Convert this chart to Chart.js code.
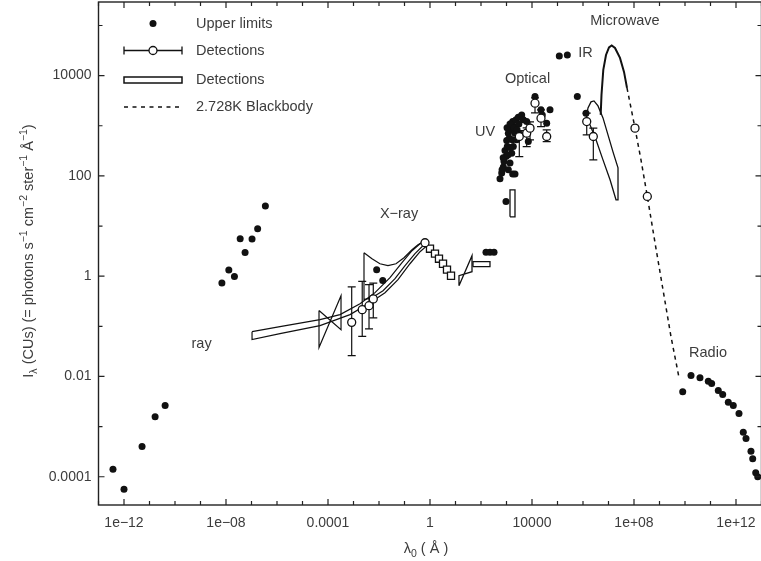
<!DOCTYPE html>
<html><head><meta charset="utf-8">
<script src="https://cdn.jsdelivr.net/npm/chart.js@4"></script>
<style>html,body{margin:0;padding:0;background:#fff;overflow:hidden}canvas{display:block}</style>
</head><body>
<canvas id="c" width="770" height="561"></canvas>
<script>
// ---------- DATA ----------
// Axis ticks
const xTickValues = [1e-12, 1e-8, 1e-4, 1, 1e4, 1e8, 1e12];
const xTickLabels = ['1e\u221212', '1e\u221208', '0.0001', '1', '10000', '1e+08', '1e+12'];
const yTickValues = [1e-4, 1e-2, 1, 1e2, 1e4];
const yTickLabels = ['0.0001', '0.01', '1', '100', '10000'];

// Upper limits (filled dots): gamma-ray, X-ray, UV, optical, IR, radio
const gammaX = [3.7e-13, 1.0e-12, 5.1e-12, 1.66e-11, 4.1e-11, 6.9e-9, 1.29e-8, 2.14e-8, 3.6e-8, 5.6e-8, 1.05e-7, 1.74e-7, 3.5e-7];
const gammaY = [1.41e-4, 5.6e-5, 4.0e-4, 1.58e-3, 2.63e-3, 0.73, 1.33, 0.99, 5.6, 2.98, 5.5, 8.8, 25];
const xrayDotX = [8.1e-3, 1.40e-2, 157, 225, 324];
const xrayDotY = [1.35, 0.82, 3.0, 3.0, 3.0];
const uvDotX = [556, 649, 750, 798, 955, 873, 1074, 1019, 1288, 1178, 1462, 1849, 1750, 2360, 2904, 3945, 4560, 6194, 2153, 2512, 1849, 1600, 1371, 1178, 1750, 2153, 7161, 670, 740, 1050, 1370, 2000, 3050, 2600, 3400, 1680, 1370, 1130, 955];
const uvDotY = [87.5, 114, 150, 194, 243, 321, 385, 507, 566, 712, 828, 964, 1213, 1312, 1483, 1648, 1312, 1213, 712, 524, 385, 284, 180, 132, 109, 109, 484, 132, 230, 910, 1090, 910, 1090, 828, 680, 524, 370, 260, 31];
const optIrDotX = [13120, 22540, 50820, 25350, 37670, 117500, 242700, 598400, 1.31e6];
const optIrDotY = [3820, 2075, 2075, 1648, 1128, 24660, 25820, 3820, 1782];
const radioX = [8.13e9, 1.72e10, 3.87e10, 8.20e10, 1.11e11, 2.02e11, 3.01e11, 4.99e11, 7.83e11, 1.31e12, 1.93e12, 2.47e12, 3.87e12, 4.52e12, 5.93e12, 7.10e12];
const radioY = [4.93e-3, 1.04e-2, 9.38e-3, 8.02e-3, 7.23e-3, 5.24e-3, 4.36e-3, 3.06e-3, 2.63e-3, 1.82e-3, 7.73e-4, 5.78e-4, 3.24e-4, 2.29e-4, 1.20e-4, 1.0e-4];

// Detections with error bars (open circles)
const detX = [8.5e-4, 2.2e-3, 4.06e-3, 5.97e-3, 0.637, 3177, 6194, 8356, 13120, 22540, 37670, 1.40e6, 2.54e6, 1.094e8, 3.33e8];
const detY = [0.12, 0.215, 0.258, 0.352, 4.64, 610, 712, 896, 2818, 1416, 610, 1213, 610, 896, 38.9];
const detLow = [0.026, 0.063, 0.089, 0.147, null, 243, 385, 524, 1800, 964, 484, 659, 209, null, null];
const detHigh = [0.61, 0.79, 0.68, 0.73, null, 800, 908, 1190, 3600, 2075, 828, 1782, 896, null, null];

// X-ray detections (open squares)
const squareX = [1.0, 1.57, 2.25, 3.24, 4.64, 6.67];
const squareY = [3.53, 2.81, 2.23, 1.77, 1.35, 1.02];

// Detection bands (outlines)
const bandWideX = [1.05e-7, 1.31e-6, 4.85e-5, 2.96e-4, 1.80e-3, 6.97e-3, 0.027, 0.0798, 0.197, 0.406, 0.637, 0.762, 0.406, 0.164, 0.0556, 0.0172, 4.44e-3, 7.29e-4, 4.85e-5, 1.31e-6, 1.05e-7, 1.05e-7];
const bandWideY = [0.0783, 0.0986, 0.136, 0.171, 0.283, 0.469, 0.933, 1.86, 3.22, 4.44, 4.86, 4.05, 3.08, 1.77, 0.851, 0.469, 0.296, 0.171, 0.103, 0.0714, 0.0543, 0.0783];
const bandXrayX = [2.58e-3, 5.31e-3, 0.0109, 0.0225, 0.0464, 0.0955, 0.197, 0.338, 0.531, 0.531, 0.258, 0.105, 0.0424, 0.0144, 5.31e-3, 2.58e-3, 2.58e-3];
const bandXrayY = [2.94, 2.23, 1.77, 1.62, 1.77, 2.33, 3.37, 4.24, 4.86, 4.05, 2.81, 1.62, 0.891, 0.514, 0.373, 0.340, 2.94];
const bowTieX = [4.44e-5, 3.24e-4, 3.24e-4, 4.44e-5, 4.44e-5];
const bowTieY = [0.206, 0.0859, 0.409, 0.0377, 0.206];
const softWedgeX = [13.7, 44.4, 44.4, 13.7, 13.7];
const softWedgeY = [0.647, 2.57, 1.23, 1.02, 0.647];
const softBoxX = [48.5, 225, 225, 48.5, 48.5];
const softBoxY = [1.55, 1.55, 1.95, 1.95, 1.55];
const uvBoxX = [1371, 2153, 2153, 1371, 1371];
const uvBoxY = [15.3, 15.3, 52.8, 52.8, 15.3];
const irBandX = [1.31e6, 1.57e6, 2.06e6, 2.70e6, 3.87e6, 6.08e6, 9.55e6, 1.50e7, 2.36e7, 2.36e7, 1.97e7, 1.15e7, 6.08e6, 3.24e6, 1.88e6, 1.31e6];
const irBandY = [1312, 2275, 2992, 3133, 2489, 1435, 659, 302, 145, 33.4, 33.4, 83.6, 209, 524, 1042, 1312];
const cmbX = [4.94e6, 5.31e6, 6.25e6, 7.98e6, 1.047e7, 1.334e7, 1.80e7, 2.82e7, 4.06e7, 5.31e7];
const cmbY = [1648, 4130, 13000, 25820, 36480, 40000, 35650, 22540, 11860, 5690];
// 2.728K blackbody (dashed)
const bbX = [5.31e7, 7.62e7, 1.094e8, 1.88e8, 3.33e8, 6.67e8, 1.37e9, 2.82e9, 5.82e9];
const bbY = [5690, 2275, 896, 209, 38.9, 4.64, 0.538, 0.0624, 0.0095];

// Region labels
const regionNames = ['Microwave', 'IR', 'Optical', 'UV', 'X\u2212ray', 'ray', 'Radio'];
const regionX = [4.4e7, 1.25e6, 6.7e3, 1.44e2, 6.1e-2, 1.1e-9, 8.0e10];
const regionY = [1.23e5, 2.83e4, 8.6e3, 7.6e2, 17.6, 0.045, 0.030];

// ---------- helpers ----------
const FONT = '"Liberation Sans", Arial, Helvetica, sans-serif';
const TXT = '#3c3c3c';
const pts = (xs, ys) => xs.map((v, i) => ({x: v, y: ys[i]}));
function lineDs(label, xs, ys, w, dash) {
  return {label, data: pts(xs, ys), showLine: true, borderColor: '#111', borderWidth: w,
    borderDash: dash || [], pointRadius: 0, fill: false, tension: 0};
}
function dotDs(label, xs, ys) {
  return {label, data: pts(xs, ys), showLine: false, pointRadius: 3.5, pointBackgroundColor: '#111',
    pointBorderColor: '#111', pointBorderWidth: 0};
}

const errorBars = {
  id: 'errorBars',
  beforeDatasetsDraw(chart) {
    const {ctx, scales: {x, y}} = chart;
    ctx.save();
    ctx.strokeStyle = '#111'; ctx.lineWidth = 1.2;
    detX.forEach((v, i) => {
      if (detLow[i] == null) return;
      const px = x.getPixelForValue(v), lo = y.getPixelForValue(detLow[i]), hi = y.getPixelForValue(detHigh[i]);
      ctx.beginPath();
      ctx.moveTo(px, lo); ctx.lineTo(px, hi);
      ctx.moveTo(px - 4, lo); ctx.lineTo(px + 4, lo);
      ctx.moveTo(px - 4, hi); ctx.lineTo(px + 4, hi);
      ctx.stroke();
    });
    ctx.restore();
  }
};

const frame = {
  id: 'frame',
  afterDraw(chart) {
    const {ctx, chartArea: a, scales: {x, y}} = chart;
    ctx.save();
    ctx.strokeStyle = '#222'; ctx.lineWidth = 1.4;
    ctx.strokeRect(a.left, a.top, a.right - a.left, a.bottom - a.top);
    ctx.lineWidth = 1.2;
    ctx.beginPath();
    for (let e = -13; e <= 13; e++) {
      const px = x.getPixelForValue(Math.pow(10, e));
      const L = (e % 4 === 0) ? 6 : 4;
      ctx.moveTo(px, a.bottom); ctx.lineTo(px, a.bottom - L);
      ctx.moveTo(px, a.top); ctx.lineTo(px, a.top + L);
    }
    for (let e = -4; e <= 5; e++) {
      const py = y.getPixelForValue(Math.pow(10, e));
      const L = (e % 2 === 0) ? 6 : 4;
      ctx.moveTo(a.left, py); ctx.lineTo(a.left + L, py);
      ctx.moveTo(a.right, py); ctx.lineTo(a.right - L, py);
    }
    ctx.stroke();

    // region labels
    ctx.fillStyle = TXT;
    ctx.font = '14.5px ' + FONT;
    ctx.textAlign = 'center'; ctx.textBaseline = 'middle';
    regionNames.forEach((n, i) => ctx.fillText(n, x.getPixelForValue(regionX[i]), y.getPixelForValue(regionY[i])));

    // legend
    const lx0 = 124, lx1 = 182, lxm = 153, tx = 196;
    ctx.fillStyle = '#111';
    ctx.beginPath(); ctx.arc(lxm, 23.5, 3.5, 0, Math.PI * 2); ctx.fill();
    ctx.strokeStyle = '#111'; ctx.lineWidth = 1.3;
    ctx.beginPath();
    ctx.moveTo(lx0, 50.5); ctx.lineTo(lx1, 50.5);
    ctx.moveTo(lx0, 46.5); ctx.lineTo(lx0, 54.5);
    ctx.moveTo(lx1, 46.5); ctx.lineTo(lx1, 54.5);
    ctx.stroke();
    ctx.fillStyle = '#fff';
    ctx.beginPath(); ctx.arc(lxm, 50.5, 4, 0, Math.PI * 2); ctx.fill(); ctx.stroke();
    ctx.lineWidth = 1.5;
    ctx.strokeRect(lx0, 77, lx1 - lx0, 6);
    ctx.lineWidth = 1.3; ctx.setLineDash([4, 4.5]);
    ctx.beginPath(); ctx.moveTo(lx0, 107); ctx.lineTo(lx1, 107); ctx.stroke();
    ctx.setLineDash([]);
    ctx.fillStyle = TXT; ctx.textAlign = 'left';
    ctx.fillText('Upper limits', tx, 24);
    ctx.fillText('Detections', tx, 51);
    ctx.fillText('Detections', tx, 80);
    ctx.fillText('2.728K Blackbody', tx, 107);

    // x axis title: lambda_0 (Å)
    ctx.textBaseline = 'alphabetic';
    const big = '14.5px ' + FONT, small = '10.5px ' + FONT;
    const xParts = [['\u03bb', big, 0], ['0', small, 4], [' ( \u00c5 )', big, 0]];
    drawParts(ctx, xParts, 426, 553, 0);

    // y axis title
    const yParts = [['I', big, 0], ['\u03bb', small, 4], [' (CUs) (= photons s', big, 0], ['\u22121', small, -6],
      [' cm', big, 0], ['\u22122', small, -6], [' ster', big, 0], ['\u22121', small, -6], [' \u00c5', big, 0], ['\u22121', small, -6], [')', big, 0]];
    drawParts(ctx, yParts, 251, 33, -Math.PI / 2);
    ctx.restore();
  }
};
function drawParts(ctx, parts, cx, cy, rot) {
  let w = 0;
  parts.forEach(p => { ctx.font = p[1]; w += ctx.measureText(p[0]).width; });
  ctx.save();
  if (rot) { ctx.translate(cy, cx); ctx.rotate(rot); ctx.translate(-cx, -cy); }
  let xx = cx - w / 2;
  ctx.fillStyle = TXT; ctx.textAlign = 'left';
  parts.forEach(p => { ctx.font = p[1]; ctx.fillText(p[0], xx, cy + p[2]); xx += ctx.measureText(p[0]).width; });
  ctx.restore();
}

// ---------- CHART ----------
const circleDs = {label: 'Detections', data: pts(detX, detY), showLine: false, pointRadius: 4,
  pointBackgroundColor: '#fff', pointBorderColor: '#111', pointBorderWidth: 1.3};
const squareDs = {label: 'Detections (squares)', data: pts(squareX, squareY), showLine: false, pointStyle: 'rect',
  pointRadius: 5, pointBackgroundColor: '#fff', pointBorderColor: '#111', pointBorderWidth: 1.3};

new Chart(document.getElementById('c'), {
  type: 'scatter',
  data: {
    datasets: [
      circleDs,
      squareDs,
      dotDs('Upper limits gamma', gammaX, gammaY),
      dotDs('Upper limits X-ray', xrayDotX, xrayDotY),
      dotDs('Upper limits UV', uvDotX, uvDotY),
      dotDs('Upper limits optical/IR', optIrDotX, optIrDotY),
      dotDs('Upper limits radio', radioX, radioY),
      lineDs('CMB', cmbX, cmbY, 2),
      lineDs('2.728K Blackbody', bbX, bbY, 1.5, [4, 4]),
      lineDs('IR band', irBandX, irBandY, 1.3),
      lineDs('UV box', uvBoxX, uvBoxY, 1.3),
      lineDs('Soft box', softBoxX, softBoxY, 1.3),
      lineDs('Soft wedge', softWedgeX, softWedgeY, 1.3),
      lineDs('Bow tie', bowTieX, bowTieY, 1.2),
      lineDs('X-ray band', bandXrayX, bandXrayY, 1.2),
      lineDs('Wide band', bandWideX, bandWideY, 1.2)
    ]
  },
  options: {
    responsive: false, animation: false,
    layout: {autoPadding: false, padding: {top: 2, right: 8.5, left: 0, bottom: 0}},
    plugins: {legend: {display: false}, tooltip: {enabled: false}},
    scales: {
      x: {
        type: 'logarithmic', position: 'bottom', min: 1e-13, max: 1e13,
        afterBuildTicks: s => { s.ticks = xTickValues.map(v => ({value: v})); },
        afterFit: s => { s.height = 56; s.paddingLeft = 0; s.paddingRight = 0; },
        grid: {display: false, drawTicks: false}, border: {display: false},
        ticks: {autoSkip: false, maxRotation: 0, padding: 10, color: TXT, font: {family: FONT, size: 14},
          callback: (v, i) => xTickLabels[i]}
      },
      y: {
        type: 'logarithmic', position: 'left', min: 2.73e-5, max: 2.94e5,
        afterBuildTicks: s => { s.ticks = yTickValues.map(v => ({value: v})); },
        afterFit: s => { s.width = 98.5; s.paddingTop = 0; s.paddingBottom = 0; },
        grid: {display: false, drawTicks: false}, border: {display: false},
        ticks: {autoSkip: false, padding: 7, color: TXT, font: {family: FONT, size: 14},
          callback: (v, i) => yTickLabels[i]}
      }
    }
  },
  plugins: [errorBars, frame]
});
</script>
</body></html>
